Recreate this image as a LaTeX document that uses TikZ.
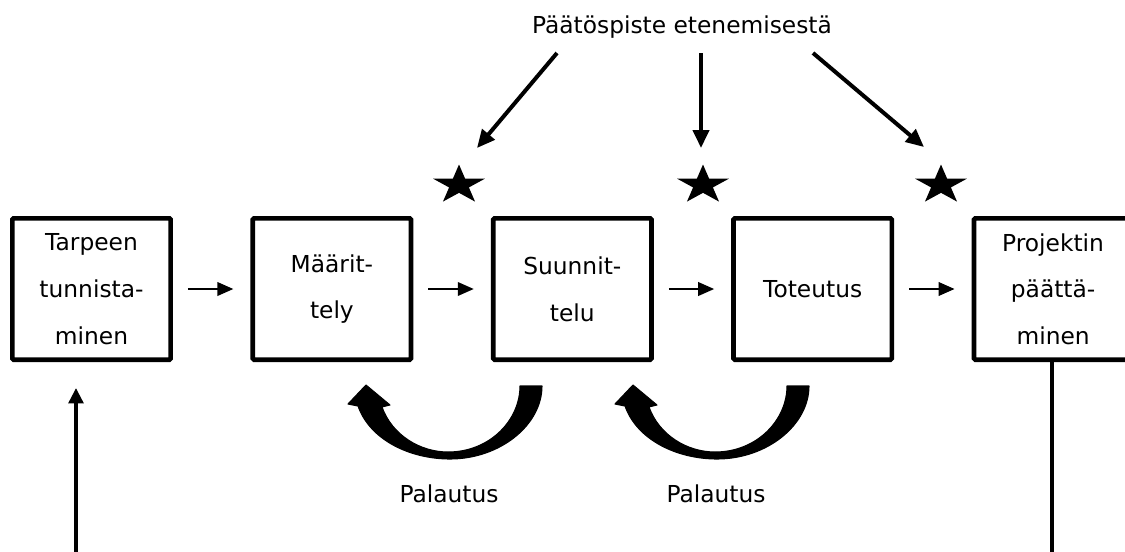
\documentclass[tikz,border=0pt]{standalone}
\usepackage{fontspec}
\setmainfont{DejaVu Sans}
\usetikzlibrary{arrows.meta,shapes.geometric,positioning}

\begin{document}
\begin{tikzpicture}[x=0.75pt, y=-0.75pt,
    every node/.style={font=\fontsize{17.5pt}{35pt}\selectfont},
    phaseBox/.style={draw=lineColour, line width=3.5pt, rounded corners=1pt,
        minimum width=118.7pt, minimum height=106pt, align=center, inner sep=0pt},
    flowArrow/.style={line width=1.9pt, -{Triangle[length=12pt,width=10pt]},
        shorten <=11.25pt, shorten >=12.75pt},
    pickArrow/.style={line width=3pt, -{Triangle[length=13.5pt,width=12pt]}},
    backArrow/.style={line width=2.6pt, -{Triangle[length=11.5pt,width=11pt]}},
    starMark/.style={star, star points=5, star point ratio=2.618, minimum size=30.75pt,
        inner sep=0pt, outer sep=0pt, fill=lineColour, transform shape}]
    % Define colours
    \definecolor{lineColour}{HTML}{000000}

    % Fix the picture size
    \useasboundingbox (0,0) rectangle (1125,551);

    % Draw the phase boxes
    \node[phaseBox] (tarve) at (91.5,289) {Tarpeen\\tunnista-\\minen};
    \node[phaseBox, right=58.1pt of tarve] (maar) {Määrit-\\tely};
    \node[phaseBox, right=58.1pt of maar] (suun) {Suunnit-\\telu};
    \node[phaseBox, right=58.1pt of suun] (tot) {Toteutus};
    \node[phaseBox, right=58.1pt of tot] (paat) {Projektin\\päättä-\\minen};

    % Arrows between the phases
    \draw[flowArrow] (tarve) -- (maar);
    \draw[flowArrow] (maar) -- (suun);
    \draw[flowArrow] (suun) -- (tot);
    \draw[flowArrow] (tot) -- (paat);

    % Decision points
    \node[anchor=base] (paatos) at (682,33) {Päätöspiste etenemisestä};
    \foreach \sx [count=\i] in {459,703,941} {
        \begin{scope}[shift={(\sx,185)}, xscale=1.33]
            \node[starMark] (t\i) at (0,0) {};
        \end{scope}
    }
    \coordinate (p1) at (557,53);
    \coordinate (q1) at (477,148);
    \coordinate (p2) at (701,53);
    \coordinate (q2) at (701,148);
    \coordinate (p3) at (813,53);
    \coordinate (q3) at (924,147);
    \draw[pickArrow] (p1) -- (q1);
    \draw[pickArrow] (p2) -- (q2);
    \draw[pickArrow] (p3) -- (q3);

    % Feedback arrows
    \foreach \dx/\nm in {0/pal1, 267/pal2} {
        \begin{scope}[shift={(\dx,0)}]
            \fill[lineColour, draw, line width=0.8pt, line join=round]
                (542,386) .. controls (542,425) and (500,459) .. (450,459)
                .. controls (410,459) and (370,440) .. (358,406)
                -- (348,404) -- (366,385) -- (390,405) -- (382,407)
                .. controls (392,435) and (420,452) .. (448,452)
                .. controls (490,452) and (520,420) .. (520,386) -- cycle;
            \node[anchor=base] (\nm) at (449,502) {Palautus};
        \end{scope}
    }

    % Lines leaving the picture
    \coordinate (alku) at (76,560);
    \coordinate (loppu) at (1052,560);
    \draw[backArrow, shorten >=19.5pt] (alku) -- (alku |- tarve.south);
    \draw[line width=3pt] (paat.south -| loppu) -- (loppu);

\end{tikzpicture}
\end{document}
